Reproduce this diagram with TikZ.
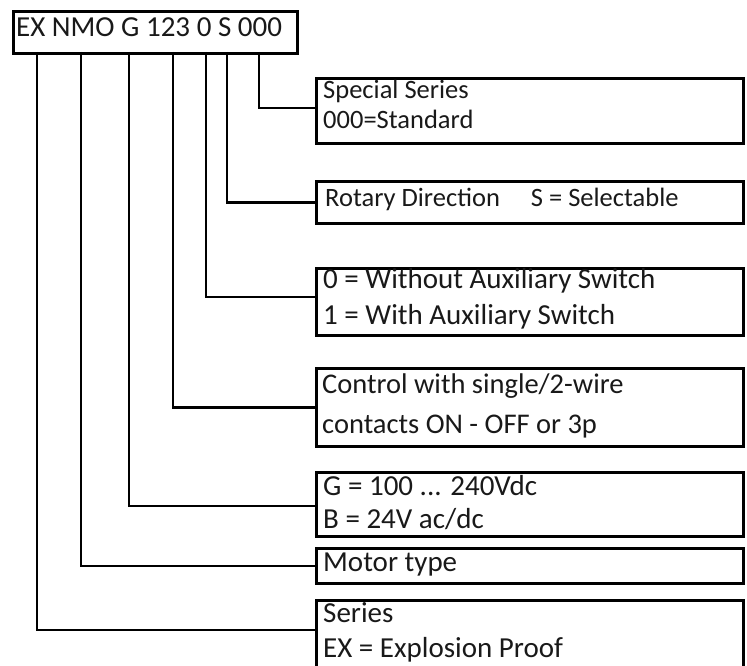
\documentclass[tikz,border=0pt]{standalone}
\usepackage{fontspec}
\setmainfont{Carlito}
\usetikzlibrary{calc}
\begin{document}
\begin{tikzpicture}[x=1pt,y=-1pt,
  box/.style={draw=black, line width=2.7pt, inner sep=0pt, anchor=north west},
  wire/.style={draw=black, line width=2.7pt},
  txt/.style={anchor=base west, inner sep=0pt, text=black!90, font=\fontsize{29}{35}\selectfont},
  small/.style={txt, font=\fontsize{26.5}{30}\selectfont}]
\useasboundingbox (0,0) rectangle (747,666);
\clip (0,0) rectangle (747,666);
% header
\node[box, minimum width=284pt, minimum height=42pt] (top) at (12,10) {};
\node[txt] (code) at (16,37) {EX NMO G 123 0 S 000};
% tap points on the header
\coordinate (c1) at (259,52);
\coordinate (c2) at (227,52);
\coordinate (c3) at (206,52);
\coordinate (c4) at (173,52);
\coordinate (c5) at (129,52);
\coordinate (c6) at (81,52);
\coordinate (c7) at (37,52);
% boxes
\node[box, minimum width=427pt, minimum height=65pt] (b1) at (315,77) {};
\node[box, minimum width=427pt, minimum height=42pt] (b2) at (315,180) {};
\node[box, minimum width=427pt, minimum height=67pt] (b3) at (315,267) {};
\node[box, minimum width=427pt, minimum height=78pt] (b4) at (315,367) {};
\node[box, minimum width=427pt, minimum height=64pt] (b5) at (315,471) {};
\node[box, minimum width=427pt, minimum height=35pt] (b6) at (315,547) {};
\node[box, minimum width=427pt, minimum height=90pt] (b7) at (315,599) {};
% texts
\node[small] (t1a) at (323,99) {Special Series};
\node[small] (t1b) at (323,129) {000=Standard};
\node[small] (t2) at (325,206) {Rotary Direction\hspace{31pt}S = Selectable};
\node[txt] (t3a) at (323,288) {0 = Without Auxiliary Switch};
\node[txt] (t3b) at (323,324) {1 = With Auxiliary Switch};
\node[txt, font=\fontsize{28.5}{34}\selectfont] (t4a) at (322,393) {Control with single/2-wire};
\node[txt, font=\fontsize{28.5}{34}\selectfont] (t4b) at (322,433) {contacts ON - OFF or 3p};
\node[txt] (t5a) at (323,495) {G = 100 ... 240Vdc};
\node[txt] (t5b) at (323,528) {B = 24V ac/dc};
\node[txt] (t6) at (323,571) {Motor type};
\node[txt] (t7a) at (323,622) {Series};
\node[txt] (t7b) at (323,657) {EX = Explosion Proof};
% connectors
\draw[wire] (c1) |- ($(b1.north west)+(0,31)$);
\draw[wire] (c2) |- (b2.west);
\draw[wire] (c3) |- ($(b3.north west)+(0,30)$);
\draw[wire] (c4) |- (b4.west);
\draw[wire] (c5) |- ($(b5.north west)+(0,35)$);
\draw[wire] (c6) |- ($(b6.north west)+(0,19)$);
\draw[wire] (c7) |- ($(b7.north west)+(0,31)$);
\end{tikzpicture}
\end{document}
